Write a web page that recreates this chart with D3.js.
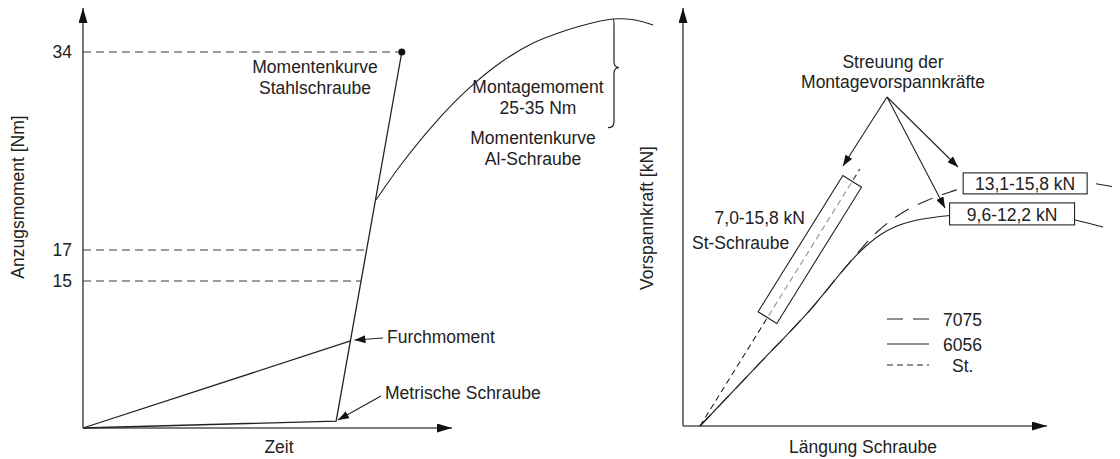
<!DOCTYPE html>
<html>
<head>
<meta charset="utf-8">
<script src="https://cdn.jsdelivr.net/npm/d3@7"></script>
<style>
  html, body { margin: 0; padding: 0; background: #fff; }
  svg { display: block; }
  text { font-family: "Liberation Sans", Arial, sans-serif; font-size: 17.5px; fill: #222; }
</style>
</head>
<body>
<svg id="chart" width="1120" height="459"></svg>
<script>
// ---------- Left chart data (Anzugsmoment über Zeit) ----------
const leftTickValues = [15, 17, 34];
const leftTickLabels = ["15", "17", "34"];
const metricTime = [0, 68.6, 86.4];
const metricMoment = [0, 0.71, 34];
const furchTime = [0, 72.5];
const furchMoment = [0, 8.88];
const alTime = [79.4, 85.9, 94.9, 104.1, 113.0, 122.0, 131.2, 137.4, 143.6, 149.6, 154.5];
const alMoment = [21.29, 24.21, 27.73, 30.74, 33.06, 34.77, 35.89, 36.45, 36.83, 36.75, 36.32];
const refMoment = [34, 17, 15];
const refTime = [86.4, 76.8, 75.3];
const braceMoment = [27.5, 36.8];
const braceTime = [143.9];

// ---------- Right chart data (Vorspannkraft über Längung) ----------
const stLaengung = [4.67, 48.6];
const stKraft = [0, 16.6];
const stBand = [7.0, 15.8];
const al6056Laengung = [4.67, 21.15, 34.89, 45.88, 50.0, 54.12, 58.79, 63.19, 67.86, 73.35, 87.09, 100.8, 107.7, 115.4];
const al6056Kraft = [0, 4.07, 7.49, 10.59, 11.56, 12.34, 12.92, 13.24, 13.44, 13.60, 13.82, 13.63, 13.31, 12.86];
const al7075Laengung = [4.67, 21.15, 34.89, 45.88, 53.30, 60.16, 67.03, 72.53, 76.65, 87.09, 100.8, 111.8, 120.05];
const al7075Kraft = [0, 4.07, 7.49, 10.59, 12.53, 13.76, 14.57, 15.05, 15.34, 15.76, 15.83, 15.70, 15.37];
const rangeLabels = ["13,1-15,8 kN", "9,6-12,2 kN"];
const rangeLaengung = [94.0, 90.4];
const rangeKraft = [15.67, 13.7];
const legendLabels = ["7075", "6056", "St."];

const svg = d3.select("#chart");
const defs = svg.append("defs");
function marker(id, w, h) {
  defs.append("marker").attr("id", id)
    .attr("markerUnits", "userSpaceOnUse")
    .attr("viewBox", `0 0 ${w} ${h}`)
    .attr("markerWidth", w).attr("markerHeight", h)
    .attr("refX", w).attr("refY", h / 2)
    .attr("orient", "auto")
    .append("path").attr("d", `M0,0 L${w},${h / 2} L0,${h} Z`).attr("fill", "#111");
}
marker("axArrow", 15, 9);
marker("arrow", 11, 8);

const ink = "#222";
const zip = (a, b) => a.map((v, i) => [v, b[i]]);

// ================= LEFT =================
const xL = d3.scaleLinear().domain([0, 100]).range([83, 452]);
const yL = d3.scaleLinear().domain([0, 15, 17, 34]).range([428, 281, 250, 52]);
const gL = svg.append("g");

const yAxisL = d3.axisLeft(yL).tickValues(leftTickValues)
  .tickFormat((d, i) => leftTickLabels[i]).tickSize(0).tickPadding(11);
const ya = gL.append("g").attr("transform", `translate(${xL(0)},0)`).call(yAxisL);
ya.select(".domain").remove();
ya.selectAll("text").style("font-size", "17.5px").attr("fill", "#222");
gL.append("line").attr("x1", xL(0)).attr("y1", yL(0)).attr("x2", xL(0)).attr("y2", 8)
  .attr("stroke", "#555").attr("stroke-width", 1.6).attr("marker-end", "url(#axArrow)");
gL.append("line").attr("x1", xL(0)).attr("y1", yL(0)).attr("x2", xL(100)).attr("y2", yL(0))
  .attr("stroke", "#555").attr("stroke-width", 1.6).attr("marker-end", "url(#axArrow)");

gL.selectAll(".ref").data(zip(refTime, refMoment)).enter().append("line")
  .attr("x1", xL(0)).attr("x2", d => xL(d[0]))
  .attr("y1", d => yL(d[1])).attr("y2", d => yL(d[1]))
  .attr("stroke", "#3a3a3a").attr("stroke-width", 1.2).attr("stroke-dasharray", "8,5");

const lineL = d3.line().x(d => xL(d[0])).y(d => yL(d[1]));
gL.append("path").attr("d", lineL(zip(metricTime, metricMoment)))
  .attr("fill", "none").attr("stroke", ink).attr("stroke-width", 1.3);
gL.append("path").attr("d", lineL(zip(furchTime, furchMoment)))
  .attr("fill", "none").attr("stroke", ink).attr("stroke-width", 1.3);
gL.append("path").attr("d", d3.line().x(d => xL(d[0])).y(d => yL(d[1])).curve(d3.curveCatmullRom.alpha(0.5))(zip(alTime, alMoment)))
  .attr("fill", "none").attr("stroke", ink).attr("stroke-width", 1.1);
gL.append("circle").attr("cx", xL(metricTime[2])).attr("cy", yL(metricMoment[2])).attr("r", 3.5).attr("fill", "#111");

{
  const bx = xL(braceTime[0]), yt = yL(braceMoment[1]), yb = yL(braceMoment[0]);
  const ym = (yt + yb) / 2 - 6;
  gL.append("path")
    .attr("d", `M${bx - 1},${yt} Q${bx},${yt} ${bx},${yt + 6} L${bx},${ym - 6} Q${bx},${ym} ${bx + 5},${ym} Q${bx},${ym} ${bx},${ym + 6} L${bx},${yb - 6} Q${bx},${yb} ${bx - 6},${yb}`)
    .attr("fill", "none").attr("stroke", ink).attr("stroke-width", 1.2);
}

function txt(g, x, y, s, anchor = "middle") {
  return g.append("text").attr("x", x).attr("y", y).attr("dy", "0.35em").attr("text-anchor", anchor).text(s);
}
txt(gL, 315, 67, "Momentenkurve");
txt(gL, 315, 88, "Stahlschraube");
txt(gL, 538, 87, "Montagemoment");
txt(gL, 538, 108, "25-35 Nm");
txt(gL, 533, 138, "Momentenkurve");
txt(gL, 533, 159, "Al-Schraube");
txt(gL, 387, 337, "Furchmoment", "start");
txt(gL, 385, 393, "Metrische Schraube", "start");
txt(gL, 279, 447, "Zeit");
gL.append("text").attr("transform", "translate(18,197) rotate(-90)").attr("dy", "0.35em")
  .attr("text-anchor", "middle").text("Anzugsmoment [Nm]");
gL.append("line").attr("x1", 383).attr("y1", 338).attr("x2", xL(furchTime[1]) + 4).attr("y2", 340)
  .attr("stroke", ink).attr("stroke-width", 1.1).attr("marker-end", "url(#arrow)");
gL.append("line").attr("x1", 381).attr("y1", 396).attr("x2", 338).attr("y2", 420)
  .attr("stroke", ink).attr("stroke-width", 1.1).attr("marker-end", "url(#arrow)");

// ================= RIGHT =================
const xR = d3.scaleLinear().domain([0, 100]).range([683, 1047]);
const yR = d3.scaleLinear().domain([0, 27]).range([426, 8]);
const gR = svg.append("g");
const xAxisR = d3.axisBottom(xR).ticks(0).tickSize(0).tickFormat("");
const xa = gR.append("g").attr("transform", `translate(0,${yR(0)})`).call(xAxisR);
xa.select(".domain").remove();
gR.append("line").attr("x1", xR(0)).attr("y1", yR(0)).attr("x2", xR(0)).attr("y2", 8)
  .attr("stroke", "#555").attr("stroke-width", 1.6).attr("marker-end", "url(#axArrow)");
gR.append("line").attr("x1", xR(0)).attr("y1", yR(0)).attr("x2", xR(100)).attr("y2", yR(0))
  .attr("stroke", "#555").attr("stroke-width", 1.6).attr("marker-end", "url(#axArrow)");

const lineR = d3.line().x(d => xR(d[0])).y(d => yR(d[1])).curve(d3.curveCatmullRom.alpha(0.5));
gR.append("path").attr("d", lineR(zip(al6056Laengung, al6056Kraft)))
  .attr("fill", "none").attr("stroke", ink).attr("stroke-width", 1.1);
gR.append("path").attr("d", lineR(zip(al7075Laengung, al7075Kraft)))
  .attr("fill", "none").attr("stroke", ink).attr("stroke-width", 1.1).attr("stroke-dasharray", "16,10");
gR.append("path").attr("d", d3.line().x(d => xR(d[0])).y(d => yR(d[1]))(zip(stLaengung, stKraft)))
  .attr("fill", "none").attr("stroke", ink).attr("stroke-width", 1.1).attr("stroke-dasharray", "6,4");

{
  const p0 = [xR(stLaengung[0]), yR(stKraft[0])], p1 = [xR(stLaengung[1]), yR(stKraft[1])];
  const atF = f => { const t = (f - stKraft[0]) / (stKraft[1] - stKraft[0]); return [p0[0] + t * (p1[0] - p0[0]), p0[1] + t * (p1[1] - p0[1])]; };
  const dx = p1[0] - p0[0], dy = p1[1] - p0[1], L = Math.hypot(dx, dy);
  const nx = -dy / L * 11, ny = dx / L * 11;
  const a = atF(stBand[0]), b = atF(stBand[1]);
  const pts = [[a[0] + nx, a[1] + ny], [b[0] + nx, b[1] + ny], [b[0] - nx, b[1] - ny], [a[0] - nx, a[1] - ny]];
  gR.append("polygon").attr("points", pts.map(p => p.join(",")).join(" "))
    .attr("fill", "rgba(255,255,255,0.5)").attr("stroke", ink).attr("stroke-width", 1.1);
}

const boxW = [124, 125], boxH = [21, 22];
rangeLabels.forEach((s, i) => {
  const cx = xR(rangeLaengung[i]), cy = yR(rangeKraft[i]);
  gR.append("rect").attr("x", cx - boxW[i] / 2).attr("y", cy - boxH[i] / 2)
    .attr("width", boxW[i]).attr("height", boxH[i]).attr("fill", "#fff").attr("stroke", ink).attr("stroke-width", 1.1);
  txt(gR, cx, cy + 0.5, s);
});

const origin = [887, 97];
[[843, 166], [945, 208], [958, 167]].forEach(t => {
  gR.append("line").attr("x1", origin[0]).attr("y1", origin[1]).attr("x2", t[0]).attr("y2", t[1])
    .attr("stroke", ink).attr("stroke-width", 1.1).attr("marker-end", "url(#arrow)");
});
txt(gR, 893, 62, "Streuung der");
txt(gR, 893, 82, "Montagevorspannkräfte");
txt(gR, 805, 218, "7,0-15,8 kN", "end");
txt(gR, 692, 243, "St-Schraube", "start");
txt(gR, 863, 447, "Längung Schraube");
gR.append("text").attr("transform", "translate(647,218) rotate(-90)").attr("dy", "0.35em")
  .attr("text-anchor", "middle").text("Vorspannkraft [kN]");

const legY = [319, 344, 365];
const legDash = ["16,10", null, "6,4"];
const legX = [943, 943, 952];
legendLabels.forEach((s, i) => {
  gR.append("line").attr("x1", 887).attr("x2", 929).attr("y1", legY[i]).attr("y2", legY[i])
    .attr("stroke", ink).attr("stroke-width", 1.1).attr("stroke-dasharray", legDash[i]);
  txt(gR, legX[i], legY[i] + 1, s, "start");
});
</script>
</body>
</html>
